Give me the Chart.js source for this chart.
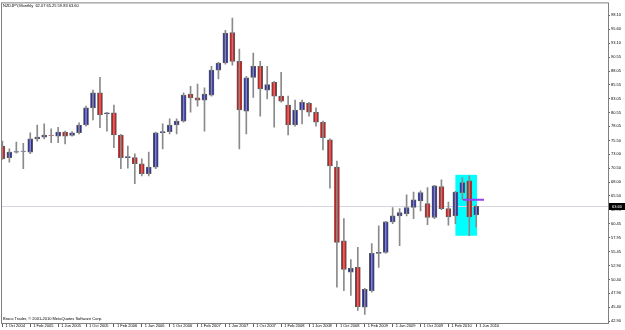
<!DOCTYPE html>
<html lang="en">
<head>
    <meta charset="UTF-8">
    <title>NZDJPY Monthly</title>
    <script src="https://cdn.jsdelivr.net/npm/chart.js"></script>
    <style>
        body { margin: 0; background: #fff; }
        canvas { display: block; }
    </style>
</head>
<body>
    <canvas id="priceChart" width="625" height="330"></canvas>

    <script>
        // monthly candles, Oct 2004 .. Jun 2010
        const months = [
            'Oct 2004', 'Nov 2004', 'Dec 2004', 'Jan 2005', 'Feb 2005', 'Mar 2005', 'Apr 2005', 'May 2005',
            'Jun 2005', 'Jul 2005', 'Aug 2005', 'Sep 2005', 'Oct 2005', 'Nov 2005', 'Dec 2005', 'Jan 2006',
            'Feb 2006', 'Mar 2006', 'Apr 2006', 'May 2006', 'Jun 2006', 'Jul 2006', 'Aug 2006', 'Sep 2006',
            'Oct 2006', 'Nov 2006', 'Dec 2006', 'Jan 2007', 'Feb 2007', 'Mar 2007', 'Apr 2007', 'May 2007',
            'Jun 2007', 'Jul 2007', 'Aug 2007', 'Sep 2007', 'Oct 2007', 'Nov 2007', 'Dec 2007', 'Jan 2008',
            'Feb 2008', 'Mar 2008', 'Apr 2008', 'May 2008', 'Jun 2008', 'Jul 2008', 'Aug 2008', 'Sep 2008',
            'Oct 2008', 'Nov 2008', 'Dec 2008', 'Jan 2009', 'Feb 2009', 'Mar 2009', 'Apr 2009', 'May 2009',
            'Jun 2009', 'Jul 2009', 'Aug 2009', 'Sep 2009', 'Oct 2009', 'Nov 2009', 'Dec 2009', 'Jan 2010',
            'Feb 2010', 'Mar 2010', 'Apr 2010', 'May 2010', 'Jun 2010'
        ];
        const opens = [
            74.5, 72.4, 73.4, 73.55, 73.4, 75.8, 76.1, 76.5, 76.3, 77.0, 76.4, 76.9, 78.3, 81.4, 84.1, 80.3,
            80.5, 76.5, 72.4, 72.4, 71.3, 69.5, 70.7, 76.9, 77.1, 78.3, 79.0, 83.9, 83.2, 82.8, 83.7, 88.2,
            89.5, 95.0, 89.8, 80.8, 86.9, 88.9, 84.6, 86.0, 83.5, 81.9, 78.3, 81.0, 82.2, 80.6, 78.8, 75.6,
            70.7, 57.4, 51.7, 52.6, 45.4, 48.4, 55.1, 55.3, 60.8, 61.9, 62.3, 63.4, 64.6, 64.1, 61.6, 67.2,
            63.2, 61.9, 66.1, 68.2, 62.07
        ];
        const highs = [
            75.4, 74.0, 75.2, 75.0, 76.9, 78.3, 78.5, 77.6, 77.9, 77.2, 77.1, 78.7, 81.7, 84.6, 86.9, 80.6,
            81.9, 76.6, 74.5, 73.1, 72.2, 73.4, 77.0, 78.5, 79.4, 79.4, 84.1, 85.3, 85.7, 85.0, 88.9, 89.6,
            95.4, 97.6, 92.0, 87.1, 91.3, 89.8, 88.9, 86.2, 87.8, 83.5, 82.8, 82.8, 82.4, 81.4, 79.0, 75.8,
            71.8, 61.4, 54.0, 56.2, 48.8, 56.9, 60.1, 60.9, 63.4, 63.2, 65.7, 66.2, 66.4, 67.0, 67.4, 68.4,
            64.4, 66.3, 68.8, 69.1, 63.9
        ];
        const lows = [
            72.1, 71.6, 73.2, 70.4, 73.1, 75.4, 75.8, 75.1, 75.1, 74.9, 76.3, 76.7, 78.1, 79.2, 77.8, 77.2,
            74.2, 70.4, 70.5, 67.7, 69.1, 69.1, 70.4, 74.0, 76.7, 76.7, 78.8, 80.6, 81.7, 77.2, 83.5, 86.6,
            89.3, 89.1, 74.0, 76.7, 83.3, 79.9, 83.0, 77.9, 82.4, 76.5, 78.1, 78.5, 79.9, 78.1, 73.8, 66.9,
            49.0, 48.4, 47.5, 44.8, 44.1, 48.1, 52.6, 55.1, 60.5, 56.5, 61.9, 61.4, 62.8, 60.3, 61.4, 63.0,
            60.2, 60.5, 64.8, 58.3, 59.83
        ];
        const closes = [
            72.2, 73.4, 73.5, 73.6, 75.8, 76.1, 76.5, 76.4, 77.0, 76.3, 76.9, 78.3, 81.4, 84.1, 80.1, 80.5,
            76.5, 72.4, 72.6, 71.3, 69.5, 70.7, 76.9, 77.1, 78.3, 79.0, 83.7, 83.2, 82.8, 83.9, 88.2, 89.5,
            94.9, 89.8, 81.0, 86.8, 88.9, 84.8, 85.6, 83.5, 82.6, 78.3, 81.0, 82.4, 80.6, 78.8, 76.0, 70.9,
            57.1, 52.2, 52.4, 45.5, 48.6, 55.1, 55.3, 60.8, 61.9, 62.5, 63.4, 64.8, 66.1, 61.6, 67.3, 63.2,
            61.7, 66.2, 67.9, 61.7, 63.60
        ];

        // axis labels
        const xTickLabels = [
            '1 Oct 2004', '1 Feb 2005', '1 Jun 2005', '1 Oct 2005', '1 Feb 2006', '1 Jun 2006',
            '1 Oct 2006', '1 Feb 2007', '1 Jun 2007', '1 Oct 2007', '1 Feb 2008', '1 Jun 2008',
            '1 Oct 2008', '1 Feb 2009', '1 Jun 2009', '1 Oct 2009', '1 Feb 2010', '1 Jun 2010'
        ];
        const yTickValues = [
            98.10, 95.60, 93.10, 90.55, 88.05, 85.55, 83.05, 80.55, 78.05, 75.50, 73.00, 70.50,
            68.00, 65.50, 62.95, 60.45, 57.95, 55.45, 52.90, 50.40, 47.90, 45.40, 42.90
        ];

        const symbolTitle = 'NZDJPY,Monthly  62.07 65.25 59.83 63.60';
        const copyright = 'Broco Trader, \u00a9 2001-2010 MetaQuotes Software Corp.';
        const lastPrice = 63.60;

        // drawn objects on the chart (month index / price)
        const boxFrom = [65.0, 69.3];
        const boxTo = [68.1, 58.3];
        const hLineFrom = [66.1, 64.8];
        const hLineTo = [69.1, 64.8];

        const BULL = '#1e22c2';
        const BEAR = '#ff0000';
        const TXT = '4px "Liberation Sans", Arial, sans-serif';

        const wickData = months.map((m, i) => ({ x: i, y: [lows[i], highs[i]] }));
        const bodyData = months.map((m, i) => ({
            x: i,
            y: [Math.min(opens[i], closes[i]), Math.max(opens[i], closes[i]) + (opens[i] === closes[i] ? 0.1 : 0)]
        }));
        const bodyColors = months.map((m, i) => closes[i] >= opens[i] ? BULL : BEAR);

        const objectsBehind = {
            id: 'objectsBehind',
            beforeDatasetsDraw(chart) {
                const { ctx, chartArea: a, scales: { x, y } } = chart;
                ctx.save();
                // cyan rectangle
                ctx.fillStyle = '#00ffff';
                const x1 = x.getPixelForValue(boxFrom[0]), x2 = x.getPixelForValue(boxTo[0]);
                const y1 = y.getPixelForValue(boxFrom[1]), y2 = y.getPixelForValue(boxTo[1]);
                ctx.fillRect(x1, y1, x2 - x1, y2 - y1);
                // bid line
                const py = Math.round(y.getPixelForValue(lastPrice)) + 0.5;
                ctx.strokeStyle = '#d6d6e2';
                ctx.lineWidth = 1;
                ctx.beginPath();
                ctx.moveTo(a.left, py);
                ctx.lineTo(a.right, py);
                ctx.stroke();
                ctx.restore();
            }
        };

        const objectsFront = {
            id: 'objectsFront',
            afterDraw(chart) {
                const { ctx, chartArea: a, scales: { x, y } } = chart;
                ctx.save();
                // purple trend line
                ctx.strokeStyle = '#9a3cf0';
                ctx.lineWidth = 2;
                ctx.beginPath();
                ctx.moveTo(x.getPixelForValue(hLineFrom[0]), y.getPixelForValue(hLineFrom[1]));
                ctx.lineTo(x.getPixelForValue(hLineTo[0]), y.getPixelForValue(hLineTo[1]));
                ctx.stroke();

                // frame
                ctx.strokeStyle = '#808080';
                ctx.lineWidth = 1;
                ctx.strokeRect(a.left + 0.5, a.top - 0.5, a.right - a.left, a.bottom - a.top + 1);

                // texts
                ctx.fillStyle = '#000';
                ctx.font = TXT;
                ctx.textBaseline = 'top';
                ctx.textAlign = 'left';
                ctx.fillText(symbolTitle, 3, 4);
                ctx.fillText(copyright, 3, 317);

                // last price box
                const py = Math.round(y.getPixelForValue(lastPrice));
                ctx.fillStyle = '#000';
                ctx.fillRect(a.right + 1, py - 3, 16, 7);
                ctx.fillStyle = '#fff';
                ctx.textBaseline = 'middle';
                ctx.fillText(lastPrice.toFixed(2), a.right + 4, py + 0.5);
                ctx.restore();
            }
        };

        const ctx = document.getElementById('priceChart').getContext('2d');
        new Chart(ctx, {
            type: 'bar',
            data: {
                datasets: [{
                    label: 'range',
                    data: wickData,
                    backgroundColor: '#8a8a8a',
                    barThickness: 1,
                    grouped: false
                }, {
                    label: 'body',
                    data: bodyData,
                    backgroundColor: bodyColors,
                    borderColor: '#5a5a5a',
                    borderWidth: 1,
                    borderSkipped: false,
                    barThickness: 5,
                    grouped: false
                }]
            },
            options: {
                responsive: false,
                animation: false,
                layout: { padding: { top: 2, left: 1, right: 0, bottom: 0 } },
                plugins: {
                    legend: { display: false },
                    tooltip: { enabled: false }
                },
                scales: {
                    x: {
                        type: 'linear',
                        offset: false,
                        min: -0.2,
                        max: 86.9,
                        grid: { offset: false, drawOnChartArea: false, tickLength: 4, color: '#606060' },
                        border: { display: true, color: '#808080' },
                        afterBuildTicks: (scale) => {
                            scale.ticks = xTickLabels.map((l, i) => ({ value: i * 4 }));
                        },
                        afterFit: (scale) => { scale.height = 7; },
                        ticks: {
                            autoSkip: false,
                            maxRotation: 0,
                            minRotation: 0,
                            align: 'start',
                            labelOffset: 3,
                            padding: -4,
                            color: '#000',
                            font: { family: '"Liberation Sans", Arial, sans-serif', size: 4 },
                            callback: (v) => xTickLabels[Math.round(v / 4)]
                        }
                    },
                    y: {
                        position: 'right',
                        min: 42.54,
                        max: 100.26,
                        grid: { drawOnChartArea: false, tickLength: 2, color: '#606060' },
                        border: { display: true, color: '#808080' },
                        afterBuildTicks: (scale) => {
                            scale.ticks = yTickValues.map(v => ({ value: v }));
                        },
                        afterFit: (scale) => { scale.width = 17; },
                        ticks: {
                            padding: 1,
                            color: '#000',
                            font: { family: '"Liberation Sans", Arial, sans-serif', size: 4 },
                            callback: (v) => v.toFixed(2)
                        }
                    }
                }
            },
            plugins: [objectsBehind, objectsFront]
        });
    </script>
</body>
</html>
